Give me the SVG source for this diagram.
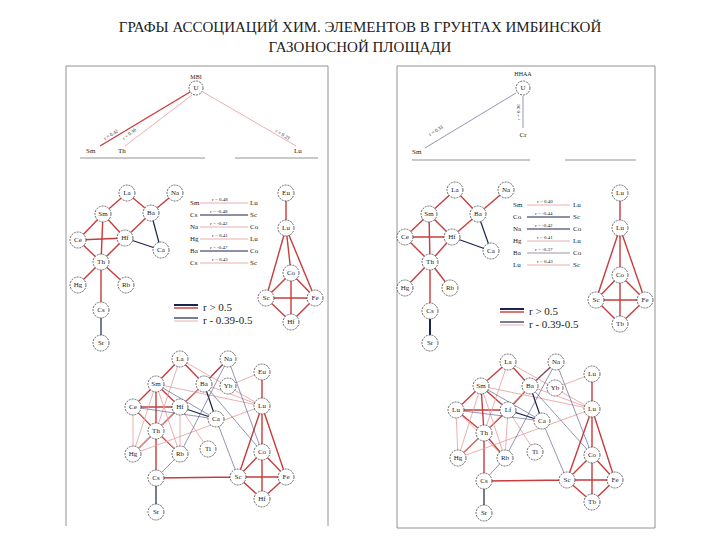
<svg xmlns="http://www.w3.org/2000/svg" width="720" height="540" viewBox="0 0 720 540">
<style>
text{font-family:"Liberation Serif","Times New Roman","DejaVu Serif",serif;fill:#222}
.t{font-size:15px}
.n circle{fill:#fff;stroke:#444;stroke-width:0.8;stroke-dasharray:2 1}
.n text{font-size:7px;text-anchor:middle;dominant-baseline:central}
.r{stroke:#c83c3c;stroke-width:1.4;fill:none}
.p{stroke:#e89a9a;stroke-width:0.8;fill:none}
.b{stroke:#1c2350;stroke-width:1.2;fill:none}
.bt{stroke:#4a5080;stroke-width:0.6;fill:none}
.g{stroke:#777;stroke-width:0.8}
.s{font-size:7px}
.s5{font-size:5px}
.lg{font-size:11px}
</style>
<rect width="720" height="540" fill="#fff"/>
<text class="t" x="360" y="32" text-anchor="middle">ГРАФЫ АССОЦИАЦИЙ ХИМ. ЭЛЕМЕНТОВ В ГРУНТАХ ИМБИНСКОЙ</text>
<text class="t" x="360" y="52" text-anchor="middle">ГАЗОНОСНОЙ ПЛОЩАДИ</text>
<g id="frames" class="g">
<line x1="66" y1="66" x2="66" y2="526"/><line x1="66" y1="66" x2="328" y2="66"/><line x1="328" y1="66" x2="328" y2="526"/>
<line x1="397" y1="66" x2="397" y2="528"/><line x1="397" y1="66" x2="655" y2="66"/><line x1="655" y1="66" x2="655" y2="528"/><line x1="397" y1="528" x2="655" y2="528"/>
<line x1="80" y1="158" x2="205" y2="158"/><line x1="235" y1="158" x2="318" y2="158"/>
<line x1="412" y1="160" x2="530" y2="160"/><line x1="565" y1="160" x2="636" y2="160"/>
</g>
<g id="connectors">
<line class="r" x1="190" y1="92" x2="100" y2="146"/><line class="p" x1="192" y1="95" x2="125" y2="146"/><line class="p" x1="203" y1="92" x2="296" y2="146"/>
<text class="s5" transform="translate(105,140) rotate(-31)">r = 0.42</text>
<text class="s5" transform="translate(124,140) rotate(-37)">r = 0.36</text>
<text class="s5" transform="translate(275,132) rotate(31)">r = 0.23</text>
<line class="bt" x1="516" y1="93" x2="425" y2="148"/><line class="bt" x1="523" y1="96" x2="523" y2="128"/>
<text class="s5" transform="translate(430,136) rotate(-31)">r = 0.33</text>
<text class="s5" transform="translate(520,120) rotate(-90)">r = 0.36</text>
<g>
<line class="r" x1="127" y1="193" x2="103" y2="214"/><line class="r" x1="127" y1="193" x2="151" y2="213"/><line class="r" x1="175" y1="193" x2="151" y2="213"/>
<line class="r" x1="103" y1="214" x2="78" y2="240"/><line class="r" x1="103" y1="214" x2="125" y2="238"/><line class="r" x1="103" y1="214" x2="101" y2="262"/>
<line class="r" x1="78" y1="240" x2="125" y2="238"/><line class="r" x1="78" y1="240" x2="101" y2="262"/><line class="r" x1="125" y1="238" x2="101" y2="262"/>
<line class="r" x1="151" y1="213" x2="125" y2="238"/><line class="b" x1="151" y1="213" x2="161" y2="250"/><line class="b" x1="125" y1="238" x2="161" y2="250"/>
<line class="r" x1="101" y1="262" x2="78" y2="285"/><line class="r" x1="101" y1="262" x2="126" y2="285"/><line class="r" x1="101" y1="262" x2="101" y2="310"/><line class="b" x1="101" y1="310" x2="101" y2="343"/>
<line class="r" x1="286" y1="193" x2="286" y2="228"/><line class="r" x1="286" y1="228" x2="266" y2="298"/><line class="r" x1="286" y1="228" x2="315" y2="298"/><line class="r" x1="286" y1="228" x2="291" y2="273"/>
<line class="r" x1="291" y1="273" x2="266" y2="298"/><line class="r" x1="291" y1="273" x2="315" y2="298"/><line class="r" x1="266" y1="298" x2="315" y2="298"/><line class="r" x1="291" y1="273" x2="291" y2="322"/>
<line class="r" x1="266" y1="298" x2="291" y2="322"/><line class="r" x1="315" y1="298" x2="291" y2="322"/>
</g>
<g class="s">
<line class="p" x1="200" y1="203" x2="248" y2="203"/><line class="b" x1="200" y1="215" x2="248" y2="215"/><line class="p" x1="200" y1="227" x2="248" y2="227"/>
<line class="p" x1="200" y1="239" x2="248" y2="239"/><line class="b" x1="200" y1="251" x2="248" y2="251"/><line class="p" x1="200" y1="263" x2="248" y2="263"/>
<text x="190" y="205">Sm</text><text x="250" y="205">Lu</text><text x="190" y="217">Cs</text><text x="250" y="217">Sc</text>
<text x="190" y="229">Na</text><text x="250" y="229">Co</text><text x="190" y="241">Hg</text><text x="250" y="241">Lu</text>
<text x="190" y="253">Ba</text><text x="250" y="253">Co</text><text x="190" y="265">Cs</text><text x="250" y="265">Sc</text>
</g>
<g class="s5"><text x="212" y="201">r = 0.48</text><text x="210" y="213">r = -0.48</text><text x="210" y="225">r = -0.42</text><text x="212" y="237">r = 0.41</text><text x="210" y="249">r = -0.47</text><text x="212" y="261">r = 0.43</text></g>
<line class="b" x1="174" y1="305" x2="198" y2="305" style="stroke-width:2"/><line class="r" x1="174" y1="308" x2="198" y2="308"/>
<line class="b" x1="174" y1="318" x2="198" y2="318"/><line class="p" x1="174" y1="321" x2="198" y2="321"/>
<text class="lg" x="203" y="311">r &gt; 0.5</text><text class="lg" x="203" y="324">r - 0.39-0.5</text>
<g>
<line class="r" x1="455" y1="190" x2="429" y2="214"/><line class="r" x1="455" y1="190" x2="478" y2="214"/><line class="r" x1="506" y1="190" x2="478" y2="214"/>
<line class="r" x1="429" y1="214" x2="405" y2="237"/><line class="r" x1="429" y1="214" x2="452" y2="237"/><line class="r" x1="429" y1="214" x2="430" y2="262"/>
<line class="r" x1="405" y1="237" x2="452" y2="237"/><line class="r" x1="405" y1="237" x2="430" y2="262"/><line class="r" x1="452" y1="237" x2="430" y2="262"/>
<line class="r" x1="478" y1="214" x2="452" y2="237"/><line class="b" x1="478" y1="214" x2="491" y2="251"/><line class="b" x1="452" y1="237" x2="491" y2="251"/>
<line class="r" x1="430" y1="262" x2="405" y2="288"/><line class="r" x1="430" y1="262" x2="450" y2="288"/><line class="r" x1="430" y1="262" x2="430" y2="311"/><line class="b" x1="430" y1="311" x2="430" y2="343" style="stroke-width:2"/>
<line class="r" x1="620" y1="193" x2="620" y2="228"/><line class="r" x1="620" y1="228" x2="596" y2="300"/><line class="r" x1="620" y1="228" x2="645" y2="300"/><line class="r" x1="620" y1="228" x2="620" y2="275"/>
<line class="r" x1="620" y1="275" x2="596" y2="300"/><line class="r" x1="620" y1="275" x2="645" y2="300"/><line class="r" x1="596" y1="300" x2="645" y2="300"/><line class="r" x1="620" y1="275" x2="620" y2="324"/>
<line class="r" x1="596" y1="300" x2="620" y2="324"/><line class="r" x1="645" y1="300" x2="620" y2="324"/>
</g>
<g class="s">
<line class="p" x1="527" y1="205" x2="570" y2="205"/><line class="b" x1="527" y1="217" x2="570" y2="217"/><line class="b" x1="527" y1="229" x2="570" y2="229"/>
<line class="p" x1="527" y1="241" x2="570" y2="241"/><line class="bt" x1="527" y1="253" x2="570" y2="253"/><line class="p" x1="527" y1="265" x2="570" y2="265"/>
<text x="513" y="207">Sm</text><text x="573" y="207">Lu</text><text x="513" y="219">Co</text><text x="573" y="219">Sc</text>
<text x="513" y="231">Na</text><text x="573" y="231">Co</text><text x="513" y="243">Hg</text><text x="573" y="243">Lu</text>
<text x="513" y="255">Ba</text><text x="573" y="255">Co</text><text x="513" y="267">Lu</text><text x="573" y="267">Sc</text>
</g>
<g class="s5"><text x="537" y="203">r = 0.40</text><text x="535" y="215">r = -0.44</text><text x="535" y="227">r = -0.42</text><text x="537" y="239">r = 0.41</text><text x="535" y="251">r = -0.37</text><text x="537" y="263">r = 0.43</text></g>
<line class="b" x1="500" y1="309" x2="524" y2="309" style="stroke-width:2"/><line class="r" x1="500" y1="312" x2="524" y2="312"/>
<line class="b" x1="500" y1="322" x2="524" y2="322"/><line class="p" x1="500" y1="325" x2="524" y2="325"/>
<text class="lg" x="529" y="315">r &gt; 0.5</text><text class="lg" x="529" y="328">r - 0.39-0.5</text>
<g>
<path class="r" d="M180 359L156 384M180 359L204 384M228 359L204 384M156 384L133 407M156 384L180 407M156 384L156 431M133 407L180 407M133 407L156 431M180 407L156 431M204 384L180 407M156 431L133 454M156 431L180 454M156 431L156 478M262 372L262 406M262 406L238 477M262 406L286 477M262 406L262 452M262 452L238 477M262 452L286 477M238 477L286 477M262 452L262 499M238 477L262 499M286 477L262 499M156 478L238 477"/>
<path class="p" d="M180 359L262 406M156 384L262 406M133 407L133 454M133 407L180 454M156 384L133 454M156 384L180 454M180 407L208 449M180 359L156 431M204 384L262 406M133 454L262 406M228 386L262 372M180 407L180 454M133 454L156 431M204 384L156 431"/>
<path class="b" d="M204 384L216 419M180 407L216 419M156 478L156 512"/>
<path class="bt" d="M228 359L180 454M228 359L262 452M156 384L216 419M133 407L216 419M204 384L262 452M216 419L238 477M180 454L156 478M228 359L204 384"/>
</g>
<g>
<path class="r" d="M508 362L481 386M508 362L530 386M556 362L530 386M481 386L456 410M481 386L508 410M481 386L484 433M456 410L508 410M456 410L484 433M508 410L484 433M530 386L508 410M484 433L458 458M484 433L505 458M484 433L484 481M592 374L592 409M592 409L567 480M592 409L615 480M592 409L592 455M592 455L567 480M592 455L615 480M567 480L615 480M592 455L592 502M567 480L592 502M615 480L592 502M484 481L567 480"/>
<path class="p" d="M508 362L592 409M481 386L592 409M456 410L458 458M456 410L505 458M481 386L458 458M481 386L505 458M508 410L535 452M508 362L484 433M530 386L592 409M458 458L592 409M555 388L592 374M508 410L505 458M458 458L484 433M530 386L484 433"/>
<path class="b" d="M530 386L542 421M508 410L542 421M484 481L484 513"/>
<path class="bt" d="M556 362L505 458M556 362L592 455M481 386L542 421M456 410L542 421M530 386L592 455M542 421L567 480M505 458L484 481M556 362L530 386"/>
</g>
</g>
<g id="n-MBI" class="n"><text x="196" y="77" style="font-size:6px">МВI</text><circle cx="196" cy="88" r="7"/><text x="196" y="88">U</text></g>
<g id="n-top-left-labels" class="s"><text x="86" y="153">Sm</text><text x="118" y="153">Th</text><text x="294" y="153">Lu</text></g>
<g id="n-HHAA" class="n"><text x="523" y="74" style="font-size:6px">ННАА</text><circle cx="523" cy="88" r="7"/><text x="523" y="88">U</text><text x="523" y="135">Cr</text></g>
<g id="n-top-right-labels" class="s"><text x="412" y="154">Sm</text></g>
<g id="nodes-left-mid" class="n">
<circle cx="127" cy="193" r="8"/><text x="127" y="193">La</text><circle cx="175" cy="193" r="8"/><text x="175" y="193">Na</text>
<circle cx="103" cy="214" r="8"/><text x="103" y="214">Sm</text><circle cx="151" cy="213" r="8"/><text x="151" y="213">Ba</text>
<circle cx="78" cy="240" r="8"/><text x="78" y="240">Ce</text><circle cx="125" cy="238" r="8"/><text x="125" y="238">Hf</text>
<circle cx="161" cy="250" r="8"/><text x="161" y="250">Ca</text><circle cx="101" cy="262" r="8"/><text x="101" y="262">Th</text>
<circle cx="78" cy="285" r="8"/><text x="78" y="285">Hg</text><circle cx="126" cy="285" r="8"/><text x="126" y="285">Rb</text>
<circle cx="101" cy="310" r="8"/><text x="101" y="310">Cs</text><circle cx="101" cy="343" r="8"/><text x="101" y="343">Sr</text>
<circle cx="286" cy="193" r="8"/><text x="286" y="193">Eu</text><circle cx="286" cy="228" r="8"/><text x="286" y="228">Lu</text>
<circle cx="291" cy="273" r="8"/><text x="291" y="273">Co</text><circle cx="266" cy="298" r="8"/><text x="266" y="298">Sc</text>
<circle cx="315" cy="298" r="8"/><text x="315" y="298">Fe</text><circle cx="291" cy="322" r="8"/><text x="291" y="322">Hf</text>
</g>
<g id="nodes-right-mid" class="n">
<circle cx="455" cy="190" r="8"/><text x="455" y="190">La</text><circle cx="506" cy="190" r="8"/><text x="506" y="190">Na</text>
<circle cx="429" cy="214" r="8"/><text x="429" y="214">Sm</text><circle cx="478" cy="214" r="8"/><text x="478" y="214">Ba</text>
<circle cx="405" cy="237" r="8"/><text x="405" y="237">Ce</text><circle cx="452" cy="237" r="8"/><text x="452" y="237">Hf</text>
<circle cx="491" cy="251" r="8"/><text x="491" y="251">Ca</text><circle cx="430" cy="262" r="8"/><text x="430" y="262">Th</text>
<circle cx="405" cy="288" r="8"/><text x="405" y="288">Hg</text><circle cx="450" cy="288" r="8"/><text x="450" y="288">Rb</text>
<circle cx="430" cy="311" r="8"/><text x="430" y="311">Cs</text><circle cx="430" cy="343" r="8"/><text x="430" y="343">Sr</text>
<circle cx="620" cy="193" r="8"/><text x="620" y="193">Lu</text><circle cx="620" cy="228" r="8"/><text x="620" y="228">Lu</text>
<circle cx="620" cy="275" r="8"/><text x="620" y="275">Co</text><circle cx="596" cy="300" r="8"/><text x="596" y="300">Sc</text>
<circle cx="645" cy="300" r="8"/><text x="645" y="300">Fe</text><circle cx="620" cy="324" r="8"/><text x="620" y="324">Tb</text>
</g>
<g id="nodes-left-bottom" class="n">
<circle cx="180" cy="359" r="8"/><text x="180" y="359">La</text><circle cx="228" cy="359" r="8"/><text x="228" y="359">Na</text>
<circle cx="262" cy="372" r="8"/><text x="262" y="372">Eu</text><circle cx="156" cy="384" r="8"/><text x="156" y="384">Sm</text>
<circle cx="204" cy="384" r="8"/><text x="204" y="384">Ba</text><circle cx="228" cy="386" r="8"/><text x="228" y="386">Yb</text>
<circle cx="133" cy="407" r="8"/><text x="133" y="407">Ce</text><circle cx="180" cy="407" r="8"/><text x="180" y="407">Hf</text>
<circle cx="216" cy="419" r="8"/><text x="216" y="419">Ca</text><circle cx="262" cy="406" r="8"/><text x="262" y="406">Lu</text>
<circle cx="156" cy="431" r="8"/><text x="156" y="431">Th</text><circle cx="208" cy="449" r="8"/><text x="208" y="449">Ti</text>
<circle cx="262" cy="452" r="8"/><text x="262" y="452">Co</text><circle cx="133" cy="454" r="8"/><text x="133" y="454">Hg</text>
<circle cx="180" cy="454" r="8"/><text x="180" y="454">Rb</text><circle cx="156" cy="478" r="8"/><text x="156" y="478">Cs</text>
<circle cx="238" cy="477" r="8"/><text x="238" y="477">Sc</text><circle cx="286" cy="477" r="8"/><text x="286" y="477">Fe</text>
<circle cx="262" cy="499" r="8"/><text x="262" y="499">Hf</text><circle cx="156" cy="512" r="8"/><text x="156" y="512">Sr</text>
</g>
<g id="nodes-right-bottom" class="n">
<circle cx="508" cy="362" r="8"/><text x="508" y="362">La</text><circle cx="556" cy="362" r="8"/><text x="556" y="362">Na</text>
<circle cx="592" cy="374" r="8"/><text x="592" y="374">Lu</text><circle cx="481" cy="386" r="8"/><text x="481" y="386">Sm</text>
<circle cx="530" cy="386" r="8"/><text x="530" y="386">Ba</text><circle cx="555" cy="388" r="8"/><text x="555" y="388">Yb</text>
<circle cx="456" cy="410" r="8"/><text x="456" y="410">Lu</text><circle cx="508" cy="410" r="8"/><text x="508" y="410">Lf</text>
<circle cx="542" cy="421" r="8"/><text x="542" y="421">Ca</text><circle cx="592" cy="409" r="8"/><text x="592" y="409">Lu</text>
<circle cx="484" cy="433" r="8"/><text x="484" y="433">Th</text><circle cx="535" cy="452" r="8"/><text x="535" y="452">Ti</text>
<circle cx="592" cy="455" r="8"/><text x="592" y="455">Co</text><circle cx="458" cy="458" r="8"/><text x="458" y="458">Hg</text>
<circle cx="505" cy="458" r="8"/><text x="505" y="458">Rb</text><circle cx="484" cy="481" r="8"/><text x="484" y="481">Cs</text>
<circle cx="567" cy="480" r="8"/><text x="567" y="480">Sc</text><circle cx="615" cy="480" r="8"/><text x="615" y="480">Fe</text>
<circle cx="592" cy="502" r="8"/><text x="592" y="502">Tb</text><circle cx="484" cy="513" r="8"/><text x="484" y="513">Sr</text>
</g>
</svg>
